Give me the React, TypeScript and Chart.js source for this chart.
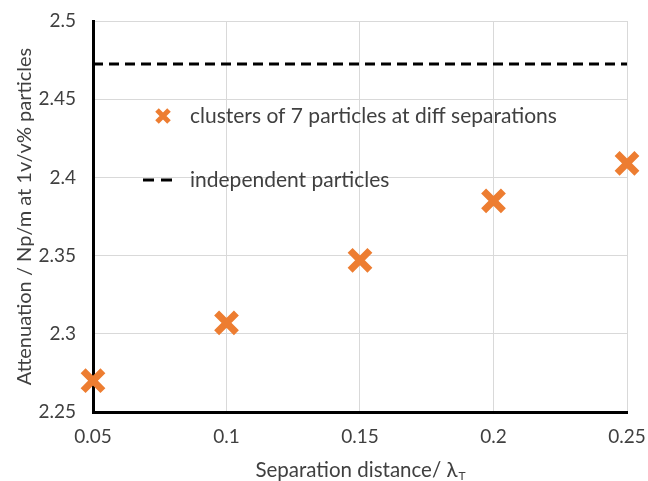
import React, { useEffect, useRef } from 'react';
import { Chart, registerables } from 'chart.js';

Chart.register(...registerables);

const separations = [0.05, 0.1, 0.15, 0.2, 0.25];
const clusterAttenuation = [2.27, 2.307, 2.347, 2.385, 2.409];
const independentAttenuation = 2.4725;
const xTickValues = [0.05, 0.1, 0.15, 0.2, 0.25];
const xTickLabels = ['0.05', '0.1', '0.15', '0.2', '0.25'];
const yTickValues = [2.25, 2.3, 2.35, 2.4, 2.45, 2.5];
const yTickLabels = ['2.25', '2.3', '2.35', '2.4', '2.45', '2.5'];
const seriesLabels = ['clusters of 7 particles at diff separations', 'independent particles'];
const yTitle = 'Attenuation / Np/m at 1v/v% particles';
const xTitleMain = 'Separation distance/ λ';
const xTitleSub = 'T';

const ORANGE = '#ED7D31';
const TEXT = '#404040';
const FONT = 'Lato, "Open Sans", sans-serif';

const overlayPlugin = {
  id: 'overlay',
  afterDraw(chart: any) {
    const { ctx, chartArea } = chart;
    const { left, top, right } = chartArea;
    ctx.save();
    // legend
    ctx.font = `21px ${FONT}`;
    ctx.fillStyle = TEXT;
    ctx.textBaseline = 'middle';
    ctx.textAlign = 'left';
    const ds = chart.data.datasets;
    const mx = left + 70;
    const my = top + 95;
    const a = 6;
    ctx.strokeStyle = ds[0].borderColor;
    ctx.lineWidth = 5;
    ctx.beginPath();
    ctx.moveTo(mx - a, my - a);
    ctx.lineTo(mx + a, my + a);
    ctx.moveTo(mx - a, my + a);
    ctx.lineTo(mx + a, my - a);
    ctx.stroke();
    ctx.fillText(ds[0].label, left + 97, my);
    const dy = top + 159;
    ctx.strokeStyle = ds[1].borderColor;
    ctx.lineWidth = 3;
    ctx.setLineDash([11, 7]);
    ctx.beginPath();
    ctx.moveTo(left + 50, dy);
    ctx.lineTo(left + 84, dy);
    ctx.stroke();
    ctx.setLineDash([]);
    ctx.fillText(ds[1].label, left + 97, dy);
    // x title with subscript
    const cx = (left + right) / 2;
    ctx.font = `20.5px ${FONT}`;
    const w1 = ctx.measureText(xTitleMain).width;
    ctx.font = `12px ${FONT}`;
    const w2 = ctx.measureText(xTitleSub).width;
    const start = cx - (w1 + w2) / 2;
    ctx.textBaseline = 'alphabetic';
    ctx.font = `20.5px ${FONT}`;
    ctx.fillText(xTitleMain, start, 477);
    ctx.font = `12px ${FONT}`;
    ctx.fillText(xTitleSub, start + w1 + 1, 480);
    ctx.restore();
  },
};

export default function App() {
  const ref = useRef<HTMLCanvasElement | null>(null);
  useEffect(() => {
    if (!ref.current) return;
    const chart = new Chart(ref.current, {
      type: 'scatter',
      data: {
        datasets: [
          {
            label: seriesLabels[0],
            data: separations.map((x, i) => ({ x, y: clusterAttenuation[i] })),
            pointStyle: 'crossRot',
            pointRadius: 14,
            pointHoverRadius: 14,
            pointBorderWidth: 7,
            borderWidth: 7,
            borderColor: ORANGE,
            backgroundColor: ORANGE,
            showLine: false,
            clip: false,
            order: 0,
          } as any,
          {
            label: seriesLabels[1],
            data: [
              { x: separations[0], y: independentAttenuation },
              { x: separations[separations.length - 1], y: independentAttenuation },
            ],
            showLine: true,
            borderColor: '#000000',
            borderWidth: 3,
            borderDash: [10, 6],
            pointRadius: 0,
            fill: false,
            order: 1,
          } as any,
        ],
      },
      options: {
        animation: false,
        responsive: true,
        maintainAspectRatio: false,
        layout: { padding: { left: 0, top: 18, right: 18, bottom: 0 } },
        plugins: {
          legend: { display: false },
          tooltip: { enabled: false },
        },
        scales: {
          x: {
            type: 'linear',
            min: 0.05,
            max: 0.25,
            afterBuildTicks: (s: any) => {
              s.ticks = xTickValues.map((v) => ({ value: v }));
            },
            afterFit: (s: any) => {
              s.height = 69;
              s.paddingLeft = 0;
              s.paddingRight = 0;
            },
            ticks: {
              callback: (_v: any, i: number) => xTickLabels[i],
              font: { family: FONT, size: 19 },
              color: TEXT,
              padding: 13,
              maxRotation: 0,
            },
            grid: { color: '#d9d9d9', lineWidth: 1, drawTicks: false },
            border: { display: true, color: '#000000', width: 3 },
            title: { display: false },
          },
          y: {
            type: 'linear',
            min: 2.25,
            max: 2.5,
            afterBuildTicks: (s: any) => {
              s.ticks = yTickValues.map((v) => ({ value: v }));
            },
            afterFit: (s: any) => {
              s.width = 93;
              s.paddingTop = 0;
              s.paddingBottom = 0;
            },
            ticks: {
              callback: (_v: any, i: number) => yTickLabels[i],
              font: { family: FONT, size: 19 },
              color: TEXT,
              padding: 17,
            },
            grid: { color: '#d9d9d9', lineWidth: 1, drawTicks: false },
            border: { display: true, color: '#000000', width: 3 },
            title: {
              display: true,
              text: yTitle,
              font: { family: FONT, size: 20 },
              color: TEXT,
              padding: { top: 13, bottom: 0 },
            },
          },
        },
      },
      plugins: [overlayPlugin],
    });
    return () => chart.destroy();
  }, []);
  return (
    <div style={{ position: 'absolute', left: 0, top: 0, width: 648, height: 481, background: '#fff' }}>
      <canvas ref={ref} />
    </div>
  );
}
